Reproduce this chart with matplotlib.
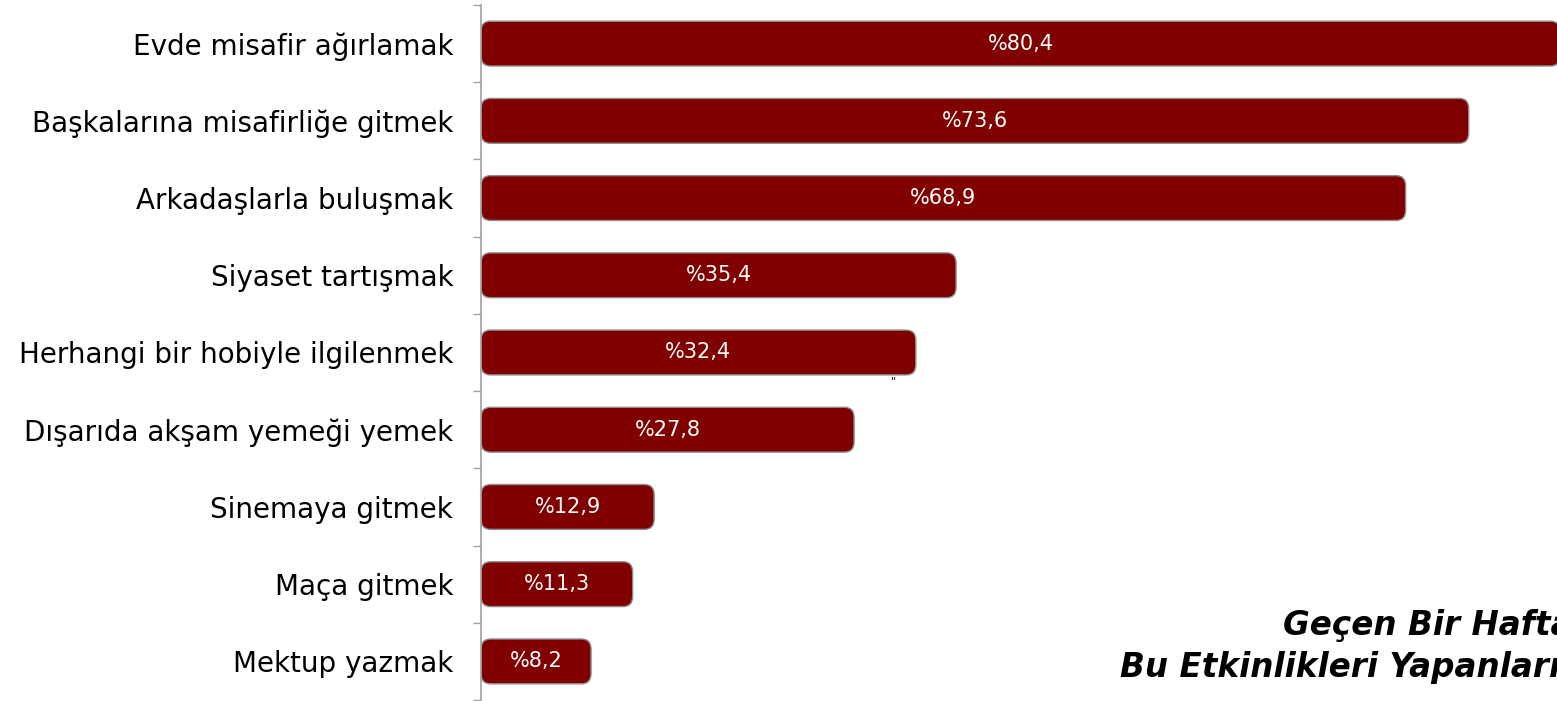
import matplotlib.pyplot as plt
from matplotlib.patches import FancyBboxPatch

# data (percent of people doing the activity last week)
activities = [
    "Evde misafir ağırlamak",
    "Başkalarına misafirliğe gitmek",
    "Arkadaşlarla buluşmak",
    "Siyaset tartışmak",
    "Herhangi bir hobiyle ilgilenmek",
    "Dışarıda akşam yemeği yemek",
    "Sinemaya gitmek",
    "Maça gitmek",
    "Mektup yazmak",
]
percents = [80.4, 73.6, 68.9, 35.4, 32.4, 27.8, 12.9, 11.3, 8.2]
value_labels = ["%80,4", "%73,6", "%68,9", "%35,4", "%32,4", "%27,8", "%12,9", "%11,3", "%8,2"]
note_lines = ["Geçen Bir Hafta", "Bu Etkinlikleri Yapanları"]

BAR_COLOR = "#800000"
EDGE_COLOR = "#8c8c8c"

fig = plt.figure(figsize=(15.57, 7.01), dpi=100)
ax = fig.add_axes([481 / 1557, 1 / 701, 1076 / 1557, 695 / 701])

ypos = list(range(len(activities)))
bars = ax.barh(ypos, percents, height=0.58, color=BAR_COLOR)

ax.set_xlim(0, 1076 / 13.42)
ax.set_ylim(len(activities) - 0.5, -0.5)

# swap the plain rectangles for rounded ones at the same place
rx = 0.7
ry = 0.13
for bar, lab in zip(bars, value_labels):
    x0, y0 = bar.get_x(), bar.get_y()
    w, h = bar.get_width(), bar.get_height()
    bar.set_visible(False)
    box = FancyBboxPatch((x0, y0), w, h,
                         boxstyle="round,pad=0,rounding_size=%f" % rx,
                         mutation_aspect=ry / rx,
                         facecolor=BAR_COLOR, edgecolor=EDGE_COLOR, linewidth=1.0)
    ax.add_patch(box)
    ax.text(x0 + w / 2, y0 + h / 2, lab, color="white", fontsize=15,
            ha="center", va="center")

ax.set_yticks(ypos)
ax.set_yticklabels(activities, fontsize=20)
ax.set_yticks([i + 0.5 for i in range(-1, len(activities))], minor=True)
ax.tick_params(axis="y", which="major", length=0, pad=20)
ax.tick_params(axis="y", which="minor", length=6, width=1, color="#a0a0a0")
ax.set_xticks([])

for s in ["top", "right", "bottom"]:
    ax.spines[s].set_visible(False)
ax.spines["left"].set_color("#a0a0a0")
ax.spines["left"].set_linewidth(1.2)

# caption in the lower right, cut by the page edge as in the original
fig.text(1283 / 1557, 1 - 626 / 701, note_lines[0], fontsize=23.5, fontweight="bold",
         fontstyle="italic", ha="left", va="center")
fig.text(1120 / 1557, 1 - 668 / 701, note_lines[1], fontsize=23.5, fontweight="bold",
         fontstyle="italic", ha="left", va="center")
fig.text(893 / 1557, 1 - 381 / 701, '"', fontsize=8, ha="center", va="center")

fig.savefig("out.png", dpi=100)
